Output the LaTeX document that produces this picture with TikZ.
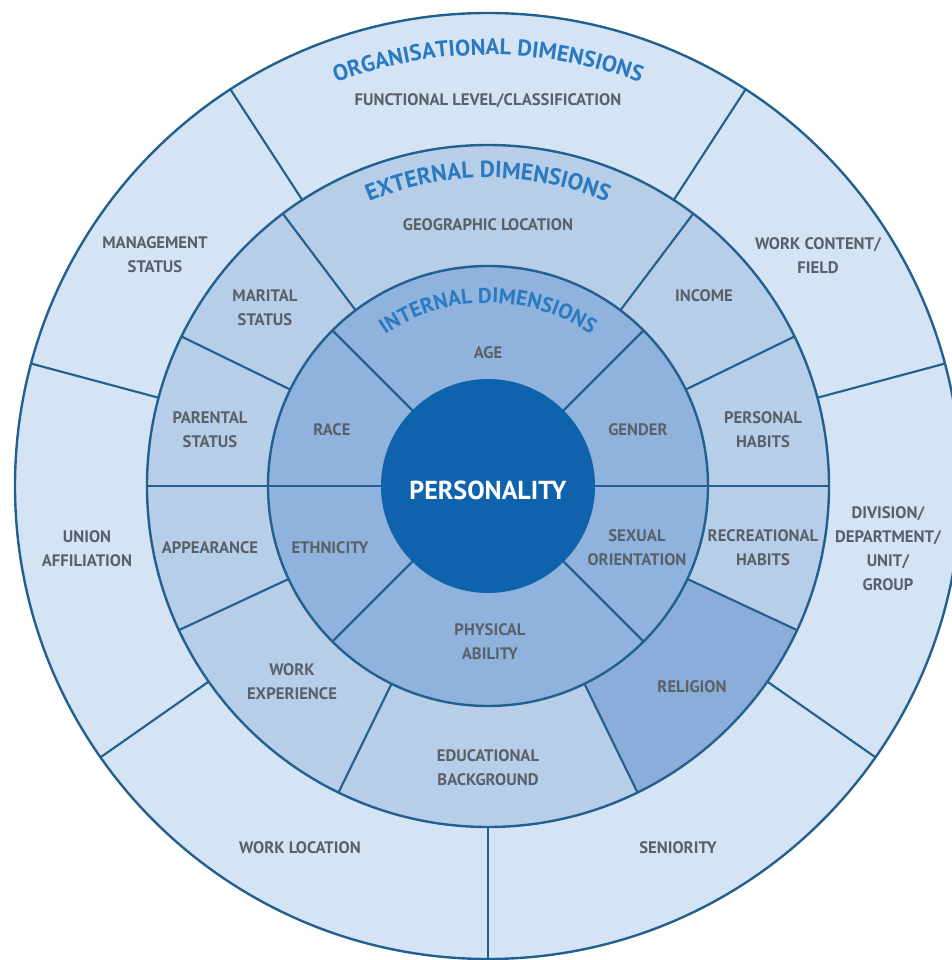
\documentclass[tikz,border=0pt]{standalone}
\usepackage{fontspec}
\setmainfont{PT Sans}
\usetikzlibrary{decorations.text}
\definecolor{cOrg}{HTML}{D5E4F4}
\definecolor{cExt}{HTML}{B7CEE8}
\definecolor{cInt}{HTML}{8FB3DC}
\definecolor{cRel}{HTML}{8AAED9}
\definecolor{cCore}{HTML}{0F63AC}
\definecolor{cLine}{HTML}{24608F}
\definecolor{cTitle}{HTML}{2A7AC2}
\definecolor{cLabel}{HTML}{596069}
\newcommand\orgtitle{\color{cTitle}\bfseries\fontsize{17}{17}\selectfont}
\newcommand\exttitle{\color{cTitle}\bfseries\fontsize{17.5}{17.5}\selectfont}
\newcommand\inttitle{\color{cTitle}\bfseries\fontsize{16}{16}\selectfont}
\def\rCore{107}
\def\rInt{220}
\def\rExt{341}
\def\rOrg{473}

\begin{document}
\begin{tikzpicture}[
    x=0.75pt, y=0.75pt,
    lbl/.style={font=\bfseries\fontsize{12.5}{18}\selectfont, text=cLabel, align=center, inner sep=0pt},
    ring/.style={draw=cLine, line width=1.8pt},
    spoke/.style={draw=cLine, line width=1.6pt},
    arctext/.style={decorate, decoration={text along path, text align=center, text={#1}}}
]
\useasboundingbox (-488,-474) rectangle (464,486);
\clip (-488,-474) rectangle (464,486);

% rings, outside in
\fill[cOrg] (0,0) circle[radius=\rOrg];
\fill[cExt] (0,0) circle[radius=\rExt];
\fill[cRel] (-64:\rInt) -- (-64:\rExt) arc[start angle=-64, end angle=-25, radius=\rExt] -- (-25:\rInt) -- cycle;
\fill[cInt] (0,0) circle[radius=\rInt];
\fill[cCore] (0,0) circle[radius=\rCore];

\foreach \a in {15,57,123,165,215,270,325}
    \draw[spoke] (\a:\rExt) -- (\a:\rOrg);
\foreach \a in {0,26,53,127,154,180,205,244,296,335}
    \draw[spoke] (\a:\rInt) -- (\a:\rExt);
\foreach \a in {0,45,135,180,225,315}
    \draw[spoke] (\a:\rCore) -- (\a:\rInt);
\foreach \r in {\rOrg,\rExt,\rInt}
    \draw[ring] (0,0) circle[radius=\r];

% dimension titles
\path[arctext={|\orgtitle|ORGANISATIONAL DIMENSIONS}] (160:431) arc[start angle=160, end angle=20, radius=431];
\path[arctext={|\exttitle|EXTERNAL DIMENSIONS}] (160:308) arc[start angle=160, end angle=20, radius=308];
\path[arctext={|\inttitle|INTERNAL DIMENSIONS}] (170:183) arc[start angle=170, end angle=10, radius=183];

\node[font=\bfseries\fontsize{19.5}{19.5}\selectfont, text=white] (personality) at (0,-4) {PERSONALITY};

% internal dimensions
\node[lbl] (age) at (0,133) {AGE};
\node[lbl] (gender) at (150,56) {GENDER};
\node[lbl] (sexual) at (149,-62) {SEXUAL\\ORIENTATION};
\node[lbl] (physical) at (2,-156) {PHYSICAL\\ABILITY};
\node[lbl] (ethnicity) at (-158,-62) {ETHNICITY};
\node[lbl] (race) at (-156,56) {RACE};

% external dimensions
\node[lbl] (geo) at (0,261) {GEOGRAPHIC LOCATION};
\node[lbl] (income) at (216,190) {INCOME};
\node[lbl] (personal) at (275,56) {PERSONAL\\HABITS};
\node[lbl] (recreational) at (275,-62) {RECREATIONAL\\HABITS};
\node[lbl] (religion) at (204,-201) {RELIGION};
\node[lbl] (education) at (0,-282) {EDUCATIONAL\\BACKGROUND};
\node[lbl] (experience) at (-196,-196) {WORK\\EXPERIENCE};
\node[lbl] (appearance) at (-278,-62) {APPEARANCE};
\node[lbl] (parental) at (-278,56) {PARENTAL\\STATUS};
\node[lbl] (marital) at (-223,178) {MARITAL\\STATUS};

% organisational dimensions
\node[lbl] (functional) at (0,385) {FUNCTIONAL LEVEL/CLASSIFICATION};
\node[lbl] (content) at (330,230) {WORK CONTENT/\\FIELD};
\node[lbl] (division) at (400,-63) {DIVISION/\\DEPARTMENT/\\UNIT/\\GROUP};
\node[lbl] (seniority) at (190,-362) {SENIORITY};
\node[lbl] (location) at (-188,-362) {WORK LOCATION};
\node[lbl] (union) at (-401,-63) {UNION\\AFFILIATION};
\node[lbl] (management) at (-333,231) {MANAGEMENT\\STATUS};

\end{tikzpicture}
\end{document}
